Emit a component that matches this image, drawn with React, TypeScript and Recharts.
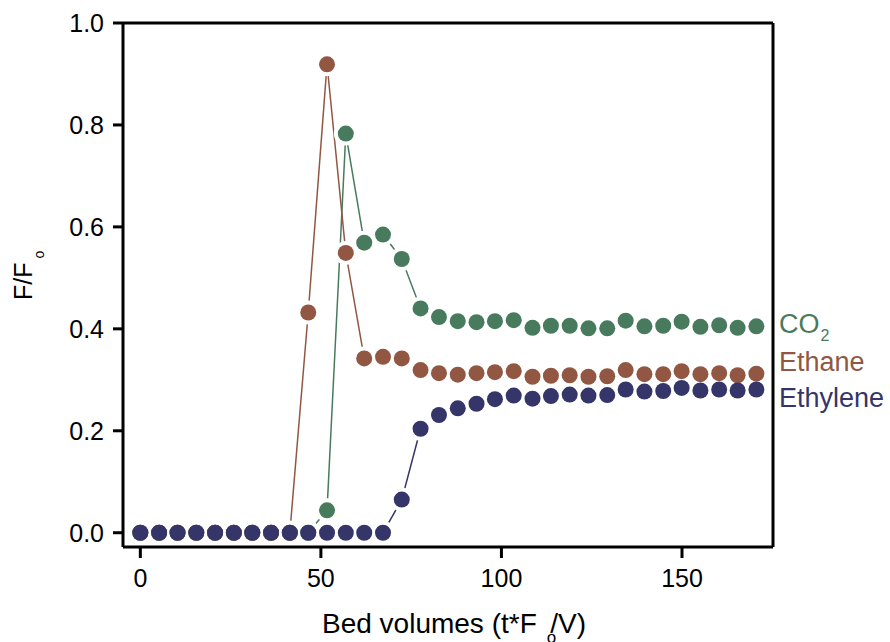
import { LineChart, Line, XAxis, YAxis, Label, ReferenceLine } from "recharts";

// bed volumes (t*Fo/V) at each sample
const BED_VOLUMES = [
  0, 5.2, 10.3, 15.5, 20.7, 25.9, 31.0, 36.2, 41.4, 46.5, 51.7, 56.9, 62.0, 67.2, 72.4, 77.6, 82.7,
  87.9, 93.1, 98.2, 103.4, 108.6, 113.7, 118.9, 124.1, 129.3, 134.4, 139.6, 144.8, 149.9, 155.1,
  160.3, 165.4, 170.6,
];

const CO2 = [
  0, 0, 0, 0, 0, 0, 0, 0, 0, 0, 0.044, 0.783, 0.569, 0.585, 0.537, 0.44, 0.423, 0.415, 0.413, 0.415,
  0.417, 0.402, 0.406, 0.406, 0.401, 0.401, 0.416, 0.405, 0.406, 0.414, 0.404, 0.407, 0.402, 0.405,
];

const ETHANE = [
  0, 0, 0, 0, 0, 0, 0, 0, 0, 0.432, 0.919, 0.549, 0.342, 0.345, 0.342, 0.319, 0.313, 0.31, 0.313,
  0.315, 0.317, 0.306, 0.308, 0.309, 0.306, 0.307, 0.319, 0.311, 0.311, 0.317, 0.311, 0.313, 0.309,
  0.312,
];

const ETHYLENE = [
  0, 0, 0, 0, 0, 0, 0, 0, 0, 0, 0, 0, 0, 0, 0.065, 0.204, 0.231, 0.244, 0.253, 0.262, 0.269, 0.263,
  0.268, 0.271, 0.269, 0.27, 0.281, 0.277, 0.278, 0.284, 0.279, 0.281, 0.279, 0.281,
];

const X_TICKS = [0, 50, 100, 150];
const Y_TICKS = [0, 0.2, 0.4, 0.6, 0.8, 1.0];

const X_DOMAIN: [number, number] = [-4.8, 175.2];
const Y_DOMAIN: [number, number] = [-0.028, 1.0];

const SERIES = [
  { key: "co2", color: "#487b5d" },
  { key: "ethane", color: "#915743" },
  { key: "ethylene", color: "#35356a" },
];

const FONT = "'Liberation Sans', Arial, Helvetica, sans-serif";

const data = BED_VOLUMES.map((bv, i) => ({
  bv,
  co2: CO2[i],
  ethane: ETHANE[i],
  ethylene: ETHYLENE[i],
}));

const axisLine = { stroke: "#000", strokeWidth: 3 };
const tickStyle = { fill: "#000", fontSize: 25, fontFamily: FONT };

function XTitle() {
  return (
    <text x={322} y={633} fontSize={28} fontFamily={FONT} fill="#000">
      Bed volumes (t*F
      <tspan fontSize={17} dx={10} dy={10}>
        o
      </tspan>
      <tspan dx={-6} dy={-10}>
        /V)
      </tspan>
    </text>
  );
}

function YTitle() {
  return (
    <text
      transform="translate(31.5, 300) rotate(-90)"
      fontSize={25}
      fontFamily={FONT}
      fill="#000"
    >
      F/F
      <tspan fontSize={14} dx={4} dy={12}>
        o
      </tspan>
    </text>
  );
}

export default function App() {
  return (
    <div style={{ position: "absolute", left: 0, top: 0, width: 890, height: 642, background: "#fff" }}>
      <LineChart
        width={890}
        height={642}
        data={data}
        margin={{ top: 23, right: 117, bottom: 0, left: 0 }}
      >
        <XAxis
          dataKey="bv"
          type="number"
          domain={X_DOMAIN}
          ticks={X_TICKS}
          allowDataOverflow
          height={95}
          stroke="#000"
          strokeWidth={3}
          axisLine={axisLine}
          tickLine={axisLine}
          tickSize={11}
          tickMargin={11}
          tick={tickStyle}
        >
          <Label content={<XTitle />} />
        </XAxis>
        <YAxis
          type="number"
          domain={Y_DOMAIN}
          ticks={Y_TICKS}
          allowDataOverflow
          width={123}
          stroke="#000"
          strokeWidth={3}
          axisLine={axisLine}
          tickLine={axisLine}
          tickSize={10}
          tickMargin={9}
          tick={tickStyle}
          tickFormatter={(v: number) => v.toFixed(1)}
        >
          <Label content={<YTitle />} />
        </YAxis>

        {/* top and right sides of the frame */}
        <ReferenceLine y={Y_DOMAIN[1]} stroke="#000" strokeWidth={3} />
        <ReferenceLine x={X_DOMAIN[1]} stroke="#000" strokeWidth={3} />

        {/* thin connecting lines */}
        {SERIES.map((s) => (
          <Line
            key={s.key + "-line"}
            dataKey={s.key}
            stroke={s.color}
            strokeWidth={1.5}
            dot={false}
            activeDot={false}
            isAnimationActive={false}
          />
        ))}
        {/* white halos so the lines stop short of the markers */}
        {SERIES.map((s) => (
          <Line
            key={s.key + "-halo"}
            dataKey={s.key}
            stroke="none"
            dot={{ r: 12, fill: "#fff", stroke: "none" }}
            activeDot={false}
            isAnimationActive={false}
          />
        ))}
        {SERIES.map((s) => (
          <Line
            key={s.key + "-dots"}
            dataKey={s.key}
            stroke="none"
            dot={{ r: 8, fill: s.color, stroke: "none" }}
            activeDot={false}
            isAnimationActive={false}
          />
        ))}
      </LineChart>

      <svg
        width={890}
        height={642}
        style={{ position: "absolute", left: 0, top: 0, pointerEvents: "none" }}
      >
        <text x={779} y={333} fontSize={27} fontFamily={FONT} fill={SERIES[0].color}>
          CO
          <tspan fontSize={16} dx={1} dy={8}>
            2
          </tspan>
        </text>
        <text x={779} y={370.5} fontSize={27} fontFamily={FONT} fill={SERIES[1].color}>
          Ethane
        </text>
        <text x={779} y={407} fontSize={27} fontFamily={FONT} fill={SERIES[2].color}>
          Ethylene
        </text>
      </svg>
    </div>
  );
}
